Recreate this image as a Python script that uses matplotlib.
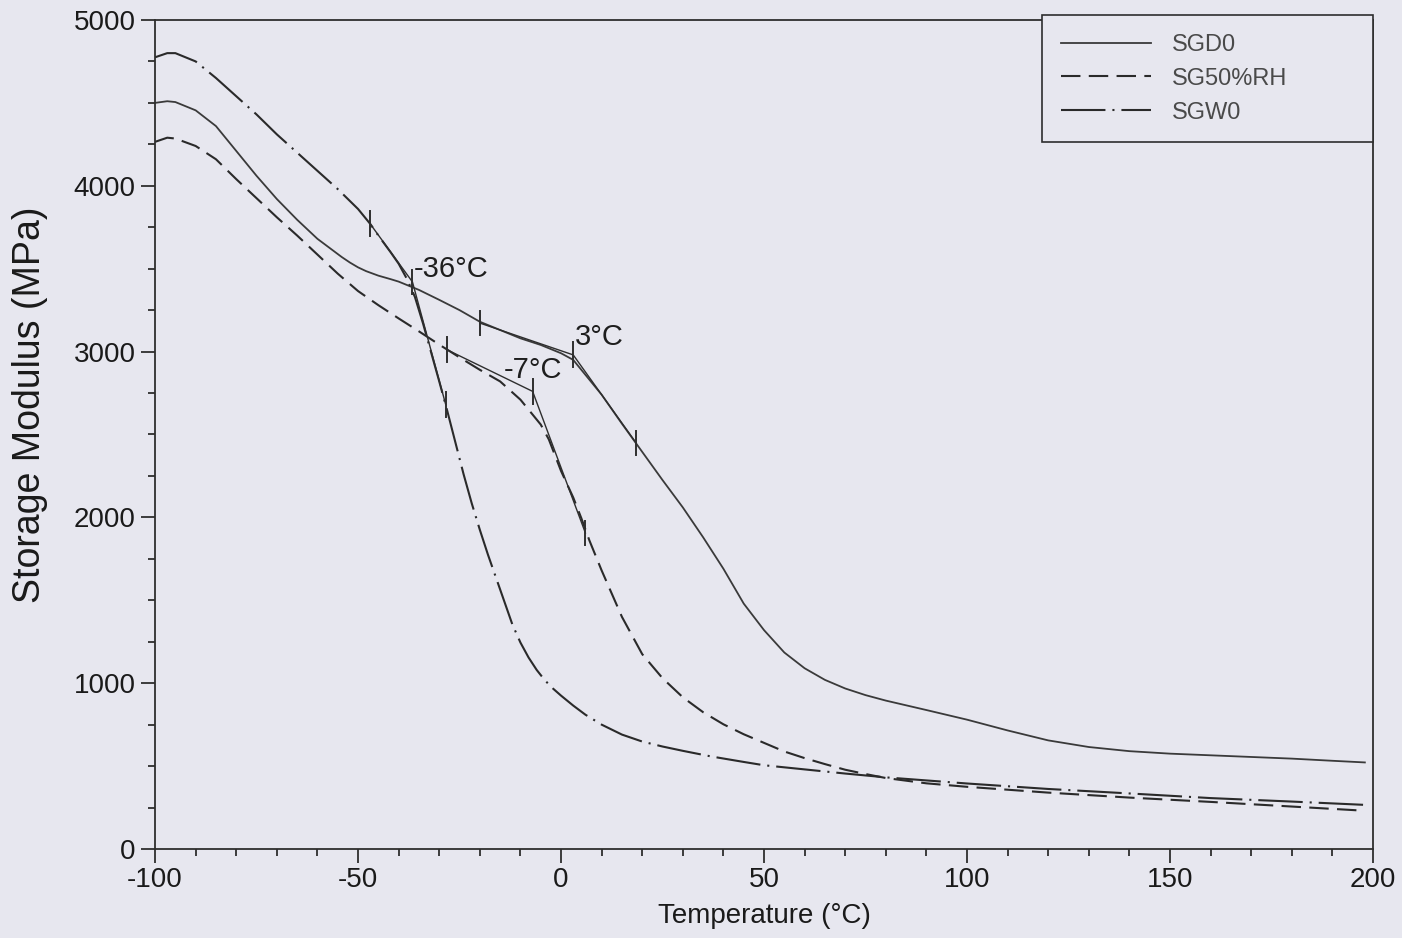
import matplotlib
matplotlib.use("Agg")
import matplotlib.pyplot as plt
from matplotlib.ticker import MultipleLocator

# --- data ---
sgd0_temp = [-100, -97, -95, -90, -85, -80, -75, -70, -65, -60, -57, -54, -52, -50,
             -48, -45, -42, -40, -35, -30, -25, -20, -15, -10, -5, 0, 3, 5, 10, 15,
             20, 25, 30, 35, 40, 45, 50, 55, 60, 65, 70, 75, 80, 90, 100, 110, 120,
             130, 140, 150, 160, 170, 180, 190, 198]
sgd0_mod = [4500, 4510, 4505, 4455, 4360, 4210, 4060, 3920, 3795, 3680, 3625, 3570,
            3537, 3508, 3485, 3458, 3437, 3422, 3372, 3312, 3250, 3180, 3130, 3080,
            3040, 2990, 2950, 2890, 2740, 2565, 2395, 2225, 2060, 1880, 1690, 1480,
            1320, 1185, 1090, 1020, 968, 928, 895, 838, 780, 715, 655, 615, 590, 575,
            565, 555, 545, 532, 522]

sg50_temp = [-100, -97, -95, -90, -85, -80, -75, -70, -65, -60, -55, -50, -45, -40,
             -35, -30, -25, -20, -15, -10, -5, -3, 0, 3, 5, 7, 10, 15, 20, 25, 30,
             35, 40, 45, 50, 55, 60, 65, 70, 75, 80, 90, 100, 120, 140, 160, 180, 197]
sg50_mod = [4265, 4290, 4285, 4240, 4160, 4040, 3925, 3810, 3700, 3585, 3470, 3365,
            3280, 3200, 3122, 3042, 2965, 2890, 2820, 2710, 2560, 2470, 2280, 2120,
            1995, 1860, 1680, 1400, 1175, 1030, 915, 825, 752, 692, 640, 588, 548,
            512, 478, 452, 428, 396, 375, 340, 310, 284, 256, 232]

sgw0_temp = [-100, -97, -95, -90, -85, -80, -75, -70, -65, -60, -55, -50, -47, -45,
             -42, -40, -38, -36, -34, -32, -30, -28, -26, -24, -22, -20, -18, -15,
             -12, -10, -8, -6, -4, -2, 0, 3, 6, 10, 15, 20, 25, 30, 37, 45, 50, 60,
             70, 80, 100, 120, 140, 160, 180, 198]
sgw0_mod = [4775, 4800, 4800, 4750, 4650, 4540, 4430, 4310, 4200, 4090, 3980, 3860,
            3770, 3700, 3600, 3530, 3440, 3330, 3170, 2995, 2820, 2640, 2450, 2260,
            2085, 1925, 1775, 1565, 1355, 1245, 1155, 1080, 1018, 968, 925, 865, 810,
            750, 690, 648, 618, 592, 558, 525, 505, 480, 455, 432, 395, 362, 335, 307,
            286, 266]

# onset construction: [baseline start, onset, steep end] for each curve
onset_labels = ["-36°C", "-7°C", "3°C"]
onset_temp = [[-47, -36.6, -28.4], [-28, -7, 6], [-20, 3, 18.5]]
onset_mod = [[3770, 3420, 2680], [3010, 2760, 1906], [3172, 2980, 2449]]

bg = "#e7e7ef"
ink = "#2e2e2e"

plt.rcParams["font.family"] = ["Liberation Sans", "DejaVu Sans"]
plt.rcParams["axes.unicode_minus"] = False
plt.rcParams["lines.scale_dashes"] = False

fig = plt.figure(figsize=(14.02, 9.38), dpi=100, facecolor=bg)
ax = fig.add_axes([0.1106, 0.0949, 0.8687, 0.8838], facecolor=bg)

ax.plot(sgd0_temp, sgd0_mod, color="#3a3a3a", lw=1.3, label="SGD0")
ax.plot(sg50_temp, sg50_mod, color="#2a2a2a", lw=1.5, dashes=(14, 6), label="SG50%RH")
ax.plot(sgw0_temp, sgw0_mod, color="#2a2a2a", lw=1.5, dashes=(32, 5, 1.5, 5), label="SGW0")

# tangent lines and their end marks
for ts, ms in zip(onset_temp, onset_mod):
    ax.plot(ts, ms, color=ink, lw=1.0)
    for t, m in zip(ts, ms):
        ax.plot([t, t], [m - 75, m + 75], color=ink, lw=1.4)

ax.text(-36.3, 3500, onset_labels[0], fontsize=21, color="#1e1e1e", va="center")
ax.text(-14.0, 2890, onset_labels[1], fontsize=21, color="#1e1e1e", va="center")
ax.text(3.3, 3090, onset_labels[2], fontsize=21, color="#1e1e1e", va="center")

ax.set_xlim(-100, 200)
ax.set_ylim(0, 5000)
ax.xaxis.set_major_locator(MultipleLocator(50))
ax.xaxis.set_minor_locator(MultipleLocator(10))
ax.yaxis.set_major_locator(MultipleLocator(1000))
ax.yaxis.set_minor_locator(MultipleLocator(250))
ax.tick_params(which="both", direction="out", color=ink, width=1.3, labelsize=20,
               labelcolor="#1a1a1a")
ax.tick_params(which="major", length=10)
ax.tick_params(which="minor", length=5)
ax.tick_params(axis="x", pad=3)
ax.tick_params(axis="y", pad=4)
for s in ax.spines.values():
    s.set_color(ink)
    s.set_linewidth(1.3)

ax.set_xlabel("Temperature (°C)", fontsize=20, color="#1a1a1a", labelpad=7)
ax.set_ylabel("Storage Modulus (MPa)", fontsize=27, color="#1a1a1a")
ax.yaxis.set_label_coords(-0.088, 0.536)

leg = ax.legend(loc="upper left", bbox_to_anchor=(0.7282, 0.8565, 0.2718, 0.1495),
                mode="expand", fontsize=17, frameon=True, fancybox=False,
                handlelength=3.8, handletextpad=0.9, labelspacing=0.5,
                borderpad=0.8, borderaxespad=0)
leg.get_frame().set_edgecolor(ink)
leg.get_frame().set_facecolor(bg)
leg.get_frame().set_alpha(1)
leg.get_frame().set_linewidth(1.2)
for t in leg.get_texts():
    t.set_color("#4a4a4a")

fig.savefig("out.png", dpi=100, facecolor=bg)
